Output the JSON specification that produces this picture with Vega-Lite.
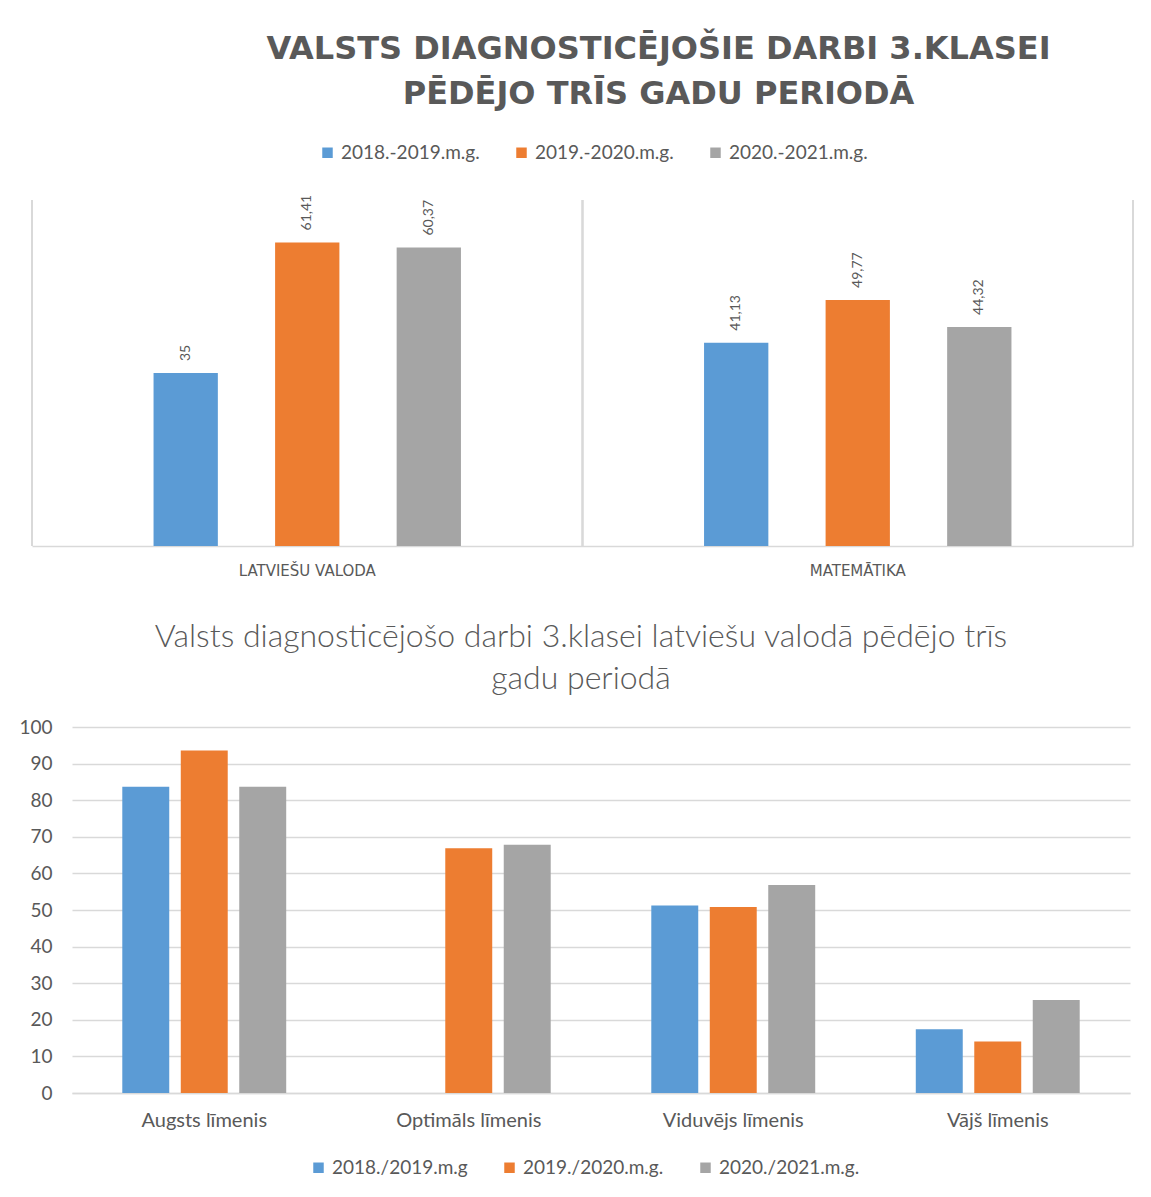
{
  "$schema": "https://vega.github.io/schema/vega-lite/v6.json",
  "background": "white",
  "padding": {"left": 18, "top": 33, "right": 0, "bottom": 0},
  "columns": 1,
  "align": "none",
  "spacing": 43,
  "resolve": {"scale": {"color": "independent", "xOffset": "independent", "x": "independent", "y": "independent"}, "legend": {"color": "independent"}},
  "config": {
    "font": "Lato",
    "locale": {"number": {"decimal": ",", "thousands": " ", "grouping": [3], "currency": ["", " €"]}},
    "view": {"stroke": null},
    "axis": {"labelColor": "#595959", "domainColor": "#d9d9d9", "gridColor": "#d9d9d9", "labelFont": "Lato", "domainWidth": 1.5, "gridWidth": 1.5},
    "legend": {"symbolType": "square", "symbolSize": 110, "symbolStrokeWidth": 0, "labelFontSize": 19, "labelColor": "#595959", "labelFont": "Lato", "columnPadding": 32, "direction": "horizontal", "title": null, "padding": 0},
    "title": {"color": "#595959"}
  },
  "concat": [
    {
      "title": {"text": ["VALSTS DIAGNOSTICĒJOŠIE DARBI 3.KLASEI", "PĒDĒJO TRĪS GADU PERIODĀ"], "font": "DejaVu Sans", "fontSize": 32, "fontWeight": "bold", "color": "#595959", "lineHeight": 45, "frame": "group", "anchor": "middle", "dx": 56, "offset": 32},
      "width": 1061,
      "height": 346,
      "data": {"values": [
        {"subject": "LATVIEŠU VALODA", "year": "2018.-2019.m.g.", "value": 35},
        {"subject": "LATVIEŠU VALODA", "year": "2019.-2020.m.g.", "value": 61.41},
        {"subject": "LATVIEŠU VALODA", "year": "2020.-2021.m.g.", "value": 60.37},
        {"subject": "MATEMĀTIKA", "year": "2018.-2019.m.g.", "value": 41.13},
        {"subject": "MATEMĀTIKA", "year": "2019.-2020.m.g.", "value": 49.77},
        {"subject": "MATEMĀTIKA", "year": "2020.-2021.m.g.", "value": 44.32}
      ]},
      "encoding": {
        "x": {"field": "subject", "type": "nominal", "sort": null, "scale": {"paddingInner": 0, "paddingOuter": 0, "range": [-40, 1061]},
              "axis": {"title": null, "labelAngle": 0, "ticks": false, "labelPadding": 17, "labelFontSize": 15, "labelFont": "DejaVu Sans", "grid": false}},
        "y": {"field": "value", "type": "quantitative", "scale": {"domain": [0, 70], "nice": false}, "axis": null}
      },
      "layer": [
        {
          "mark": {"type": "bar"},
          "encoding": {
            "xOffset": {"field": "year", "sort": null, "scale": {"paddingInner": 0.471, "paddingOuter": 1.16}},
            "color": {"field": "year", "type": "nominal", "sort": null,
                      "scale": {"domain": ["2018.-2019.m.g.", "2019.-2020.m.g.", "2020.-2021.m.g."], "range": ["#5b9bd5", "#ed7d31", "#a5a5a5"]},
                      "legend": {"orient": "none", "legendX": 246, "legendY": -57}}
          }
        },
        {
          "mark": {"type": "text", "angle": 270, "align": "left", "baseline": "middle", "dx": 12, "fontSize": 14, "color": "#595959"},
          "encoding": {
            "xOffset": {"field": "year", "sort": null, "scale": {"paddingInner": 0.471, "paddingOuter": 1.16}},
            "text": {"field": "value", "type": "quantitative", "format": ".4~r"}
          }
        },
        {
          "mark": {"type": "rule", "color": "#d9d9d9", "strokeWidth": 1.5},
          "encoding": {"x": {"field": "subject", "type": "nominal", "sort": null, "bandPosition": 0}, "y": null}
        },
        {
          "mark": {"type": "rule", "color": "#d9d9d9", "strokeWidth": 1.5},
          "encoding": {"x": {"field": "subject", "type": "nominal", "sort": null, "bandPosition": 1}, "y": null}
        }
      ]
    },
    {
      "title": {"text": ["Valsts diagnosticējošo darbi 3.klasei latviešu valodā pēdējo trīs", "gadu periodā"], "font": "Lato", "fontSize": 32, "fontWeight": 300, "color": "#595959", "lineHeight": 42, "frame": "group", "anchor": "middle", "dx": -20, "offset": 22},
      "width": 1058,
      "height": 366,
      "data": {"values": [
        {"level": "Augsts līmenis", "year": "2018./2019.m.g", "value": 83.7},
        {"level": "Augsts līmenis", "year": "2019./2020.m.g.", "value": 93.6},
        {"level": "Augsts līmenis", "year": "2020./2021.m.g.", "value": 83.7},
        {"level": "Optimāls līmenis", "year": "2019./2020.m.g.", "value": 66.9},
        {"level": "Optimāls līmenis", "year": "2020./2021.m.g.", "value": 67.8},
        {"level": "Viduvējs līmenis", "year": "2018./2019.m.g", "value": 51.2},
        {"level": "Viduvējs līmenis", "year": "2019./2020.m.g.", "value": 50.8},
        {"level": "Viduvējs līmenis", "year": "2020./2021.m.g.", "value": 56.8},
        {"level": "Vājš līmenis", "year": "2018./2019.m.g", "value": 17.4},
        {"level": "Vājš līmenis", "year": "2019./2020.m.g.", "value": 14.1},
        {"level": "Vājš līmenis", "year": "2020./2021.m.g.", "value": 25.4}
      ]},
      "mark": {"type": "bar"},
      "encoding": {
        "x": {"field": "level", "type": "nominal", "sort": ["Augsts līmenis", "Optimāls līmenis", "Viduvējs līmenis", "Vājš līmenis"],
              "scale": {"paddingInner": 0, "paddingOuter": 0},
              "axis": {"title": null, "labelAngle": 0, "ticks": false, "labelPadding": 17, "labelFontSize": 20, "grid": false}},
        "xOffset": {"field": "year", "sort": ["2018./2019.m.g", "2019./2020.m.g.", "2020./2021.m.g."],
                    "scale": {"domain": ["2018./2019.m.g", "2019./2020.m.g.", "2020./2021.m.g."], "paddingInner": 0.197, "paddingOuter": 0.86}},
        "y": {"field": "value", "type": "quantitative", "scale": {"domain": [0, 100], "nice": false},
              "axis": {"title": null, "values": [0, 10, 20, 30, 40, 50, 60, 70, 80, 90, 100], "domain": false, "ticks": false, "labelPadding": 20, "labelFontSize": 19, "grid": true}},
        "color": {"field": "year", "type": "nominal",
                  "scale": {"domain": ["2018./2019.m.g", "2019./2020.m.g.", "2020./2021.m.g."], "range": ["#5b9bd5", "#ed7d31", "#a5a5a5"]},
                  "legend": {"orient": "none", "legendX": 237, "legendY": 431}}
      }
    }
  ]
}
